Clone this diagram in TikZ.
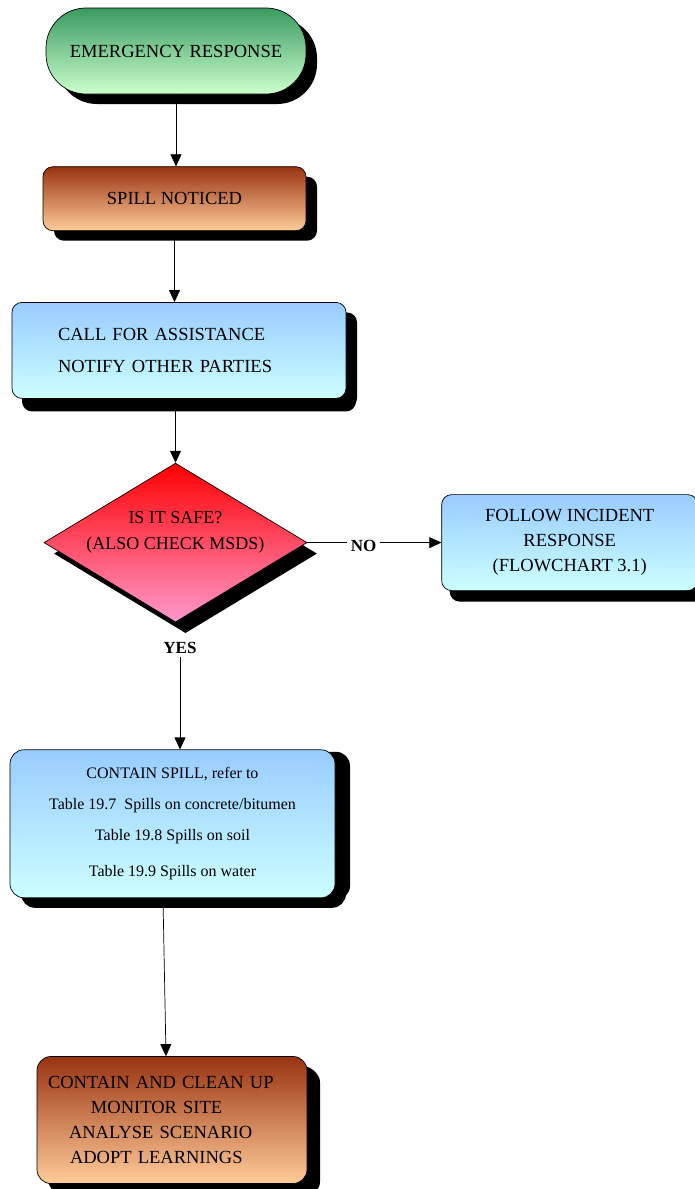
\documentclass[tikz,border=0pt]{standalone}
\usepackage{fontspec}
\setmainfont{Liberation Serif}
\usetikzlibrary{shapes.geometric, arrows.meta, positioning, shadows}
\definecolor{startgreen}{HTML}{3A9A62}
\definecolor{startlight}{HTML}{CCFFCC}
\definecolor{spillbrown}{HTML}{993311}
\definecolor{spillpeach}{HTML}{FFCC99}
\definecolor{actblue}{HTML}{99CCFF}
\definecolor{actlight}{HTML}{CCFFFF}
\definecolor{checkred}{HTML}{FF0000}
\definecolor{checkpink}{HTML}{FF99CC}
\tikzset{
  box/.style 2 args={
    rectangle, rounded corners=10pt, draw=black, line width=0.7pt,
    top color=#1, bottom color=#2, align=center, inner sep=0pt,
    font=\fontsize{18.5}{25}\selectfont,
    general shadow={fill=black, shadow xshift=11pt, shadow yshift=-10pt}
  },
  decision/.style={
    diamond, draw=black, line width=0.7pt, inner sep=0pt,
    top color=checkred, bottom color=checkpink,
    general shadow={fill=black, shadow xshift=10pt, shadow yshift=-11pt}
  },
  answer/.style={font=\fontsize{17}{20}\bfseries\selectfont},
  flow/.style={-{Triangle[length=12pt, width=11pt]}, line width=0.7pt}
}

\begin{document}
\begin{tikzpicture}[x=1pt, y=-1pt]
  \useasboundingbox (0,0) rectangle (695,1189);
  \node[box={startgreen}{startlight}, rounded corners=40pt,
        minimum width=260pt, minimum height=86pt] (start)
    at (176,51) {EMERGENCY RESPONSE};
  \node[box={spillbrown}{spillpeach}, minimum width=263pt,
        minimum height=64pt, below=72pt of start, xshift=-1.5pt] (spill)
    {SPILL NOTICED};
  \node[box={actblue}{actlight}, minimum width=334pt, minimum height=96pt,
        text width=242pt, inner xsep=46pt, align=left,
        font=\fontsize{18.5}{32}\selectfont,
        general shadow={fill=black, shadow xshift=10pt, shadow yshift=-13pt},
        below=71pt of spill, xshift=4.5pt] (call)
    {CALL FOR ASSISTANCE\\
     NOTIFY OTHER PARTIES};
  \node[decision, minimum width=263pt, minimum height=159pt,
        below=64pt of call, xshift=-3.5pt,
        label={[font=\fontsize{18}{26}\selectfont, align=center,
                yshift=10pt]center:IS IT SAFE?\\(ALSO CHECK MSDS)}] (check) {};
  \node[box={actblue}{actlight}, minimum width=256pt, minimum height=96pt,
        general shadow={fill=black, shadow xshift=8pt, shadow yshift=-11pt},
        right=134pt of check] (follow)
    {FOLLOW INCIDENT\\
     RESPONSE\\
     (FLOWCHART 3.1)};
  \node[answer, right=40pt of check, yshift=-3pt] (no) {NO};
  \node[answer, below=16pt of check, xshift=4.5pt] (yes) {YES};
  \node[box={actblue}{actlight}, rounded corners=14pt, minimum width=325pt,
        minimum height=148pt, font=\fontsize{16}{31}\selectfont,
        general shadow={fill=black, shadow xshift=15pt, shadow yshift=-2pt},
        below=127pt of check, xshift=-3pt] (contain)
    {CONTAIN SPILL, refer to\\
     Table 19.7~ Spills on concrete/bitumen\\
     Table 19.8 Spills on soil\\[5pt]
     Table 19.9 Spills on water};
  \node[box={spillbrown}{spillpeach}, rounded corners=14pt,
        minimum width=270pt, minimum height=127pt,
        text width=248pt, inner xsep=11pt, align=left,
        general shadow={fill=black, shadow xshift=13pt, shadow yshift=-12pt},
        below=158pt of contain, xshift=-0.5pt] (final)
    {CONTAIN AND CLEAN UP\\
     \hspace*{43pt}MONITOR SITE\\
     \hspace*{21pt}ANALYSE SCENARIO\\
     \hspace*{22pt}ADOPT LEARNINGS};
  % connectors
  \draw[flow] (start.south) -- (start.south |- spill.north);
  \draw[flow] (spill.south) -- (spill.south |- call.north);
  \draw[flow] (call.south -| check.north) -- (check.north);
  \draw[line width=0.7pt] (check.east) -- (check.east -| no.west);
  \draw[flow] (check.east -| no.east) -- (check.east -| follow.west);
  \draw[flow] (yes.south) -- (yes.south |- contain.north);
  \draw[flow] ([xshift=-9.5pt]contain.south) -- ([xshift=-6pt]final.north);
\end{tikzpicture}
\end{document}
